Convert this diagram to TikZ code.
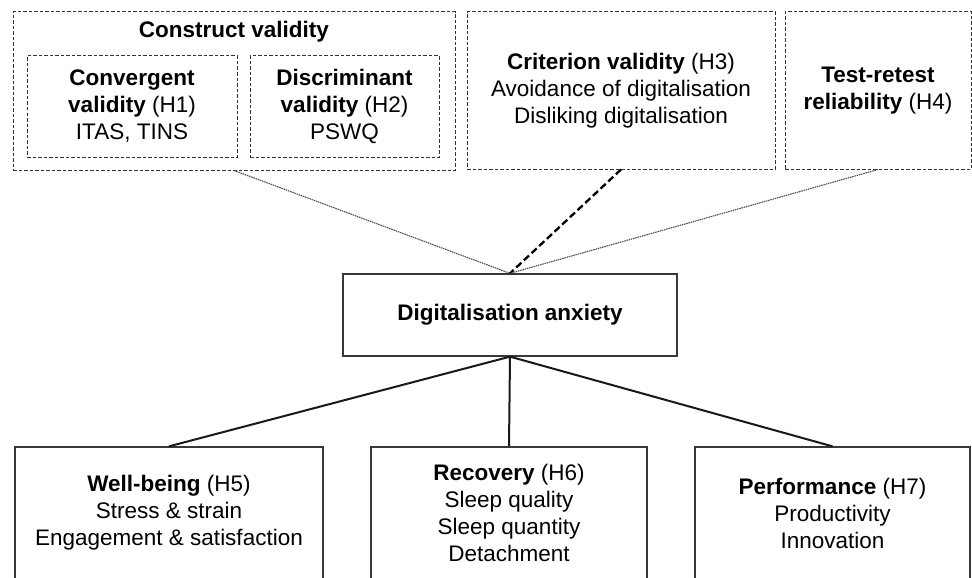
\documentclass[tikz,border=0pt]{standalone}
\usepackage{fontspec}
\setmainfont{Liberation Sans}
\begin{document}
\begin{tikzpicture}[x=1pt,y=-1pt,
  every node/.style={font=\fontsize{22.5}{27}\selectfont, align=center, inner sep=0pt},
  dbox/.style={draw=black!80, line width=1pt, dash pattern=on 3.5pt off 2pt, rectangle},
  sbox/.style={draw=black!78, line width=1.3pt, rectangle},
  thinlink/.style={draw=black!70, line width=1.1pt, dash pattern=on 1.5pt off 0.8pt},
  boldlink/.style={draw=black, line width=2.3pt, dash pattern=on 7pt off 3.5pt},
  solidlink/.style={draw=black!90, line width=2pt}
]
\useasboundingbox (0,0) rectangle (972,578);
\clip (0,0) rectangle (972,578);
\fill[white] (0,0) rectangle (972,578);

% top boxes
\node[dbox, minimum width=442pt, minimum height=158pt] (cons) at (234,91) {};
\node (constitle) at (234,32) {\textbf{Construct validity}};
\node[dbox, minimum width=210pt, minimum height=101pt] (conv) at (132,106.5)
  {\textbf{Convergent}\\\textbf{validity} (H1)\\ITAS, TINS};
\node[dbox, minimum width=189pt, minimum height=101pt] (disc) at (344.5,106.5)
  {\textbf{Discriminant}\\\textbf{validity} (H2)\\PSWQ};
\node[dbox, minimum width=308pt, minimum height=157pt] (crit) at (621,90.5)
  {\textbf{Criterion validity} (H3)\\Avoidance of digitalisation\\Disliking digitalisation};
\node[dbox, minimum width=186pt, minimum height=157pt] (test) at (878,90.5)
  {\textbf{Test-retest}\\\textbf{reliability} (H4)};

% central box
\node[sbox, minimum width=334pt, minimum height=82pt] (da) at (510,315)
  {\textbf{Digitalisation anxiety}};

% bottom boxes
\node[sbox, minimum width=308pt, minimum height=132pt] (wb) at (169,513)
  {\textbf{Well-being} (H5)\\Stress \& strain\\Engagement \& satisfaction};
\node[sbox, minimum width=276pt, minimum height=132pt] (rec) at (509,513)
  {\textbf{Recovery} (H6)\\Sleep quality\\Sleep quantity\\Detachment};
\node[sbox, minimum width=275pt, minimum height=132pt] (perf) at (832.5,513)
  {\textbf{Performance} (H7)\\Productivity\\Innovation};

% connectors
\draw[thinlink] (cons.south) -- (da.north);
\draw[boldlink] (crit.south) -- (da.north);
\draw[thinlink] (test.south) -- (da.north);
\draw[solidlink] (da.south) -- (wb.north);
\draw[solidlink] (da.south) -- (rec.north);
\draw[solidlink] (da.south) -- (perf.north);
\end{tikzpicture}
\end{document}
